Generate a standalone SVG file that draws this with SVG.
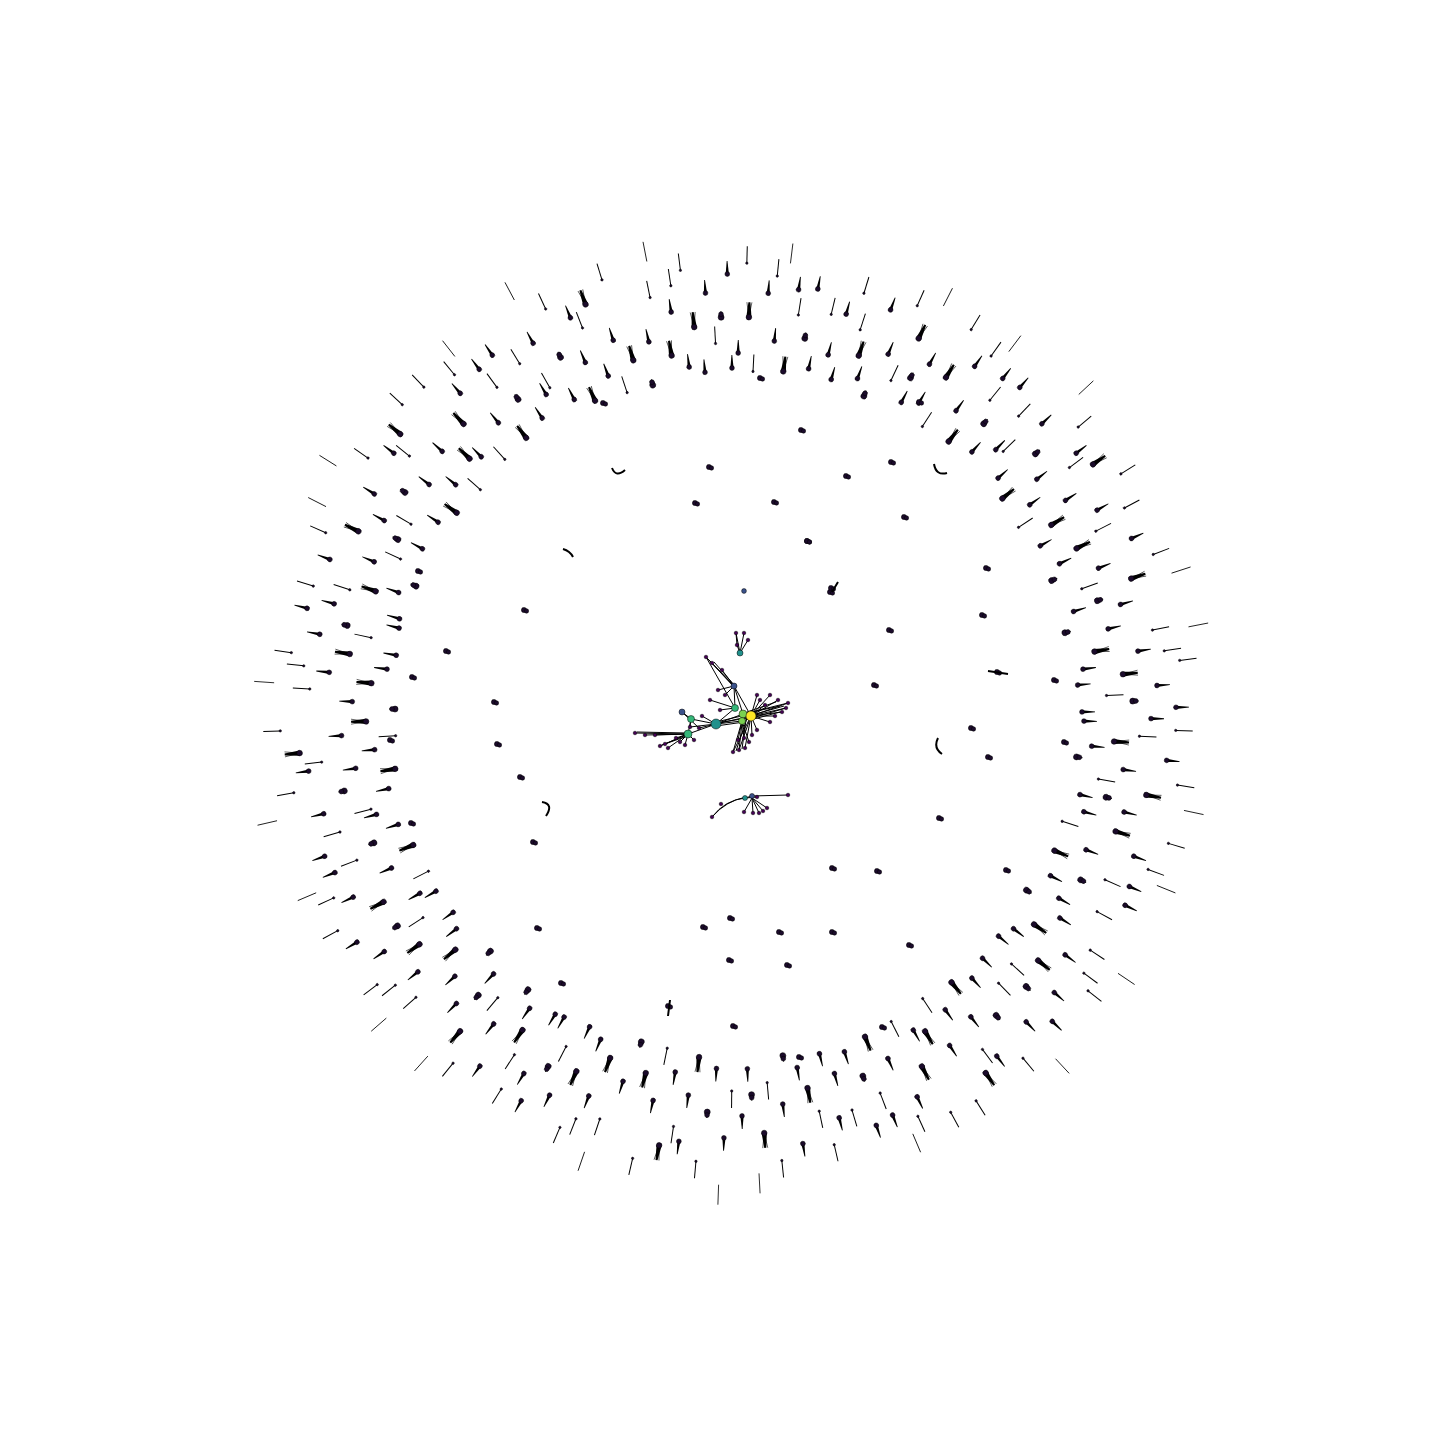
<svg xmlns="http://www.w3.org/2000/svg" width="1440" height="1440" viewBox="0 0 1440 1440">
<style>
.e{stroke:#000;stroke-width:1;fill:none}
.n{fill:#1b0b2b;stroke:#000;stroke-width:0.5}
</style>
<defs>
<g id="a"><path d="M0,-1.6L13,-0.4L13,0.4L0,1.6Z" fill="#000"/><circle r="2.4" class="n"/></g>
<g id="b"><line x1="0" y1="0" x2="17" y2="0" class="e"/><circle r="1.2" class="n"/></g>
<g id="c"><path d="M0,-2.6L15,-1L15,1L0,2.6Z" fill="#000"/><path d="M0,0L15,-2.5M0,0L15,2.5" class="e" style="stroke-width:0.6"/><circle r="2.8" class="n"/></g>
<g id="d"><line x1="0" y1="0" x2="6" y2="0" class="e"/><circle r="3" class="n"/><circle cx="3" r="2.4" class="n"/></g>
<g id="f"><line x1="0" y1="0" x2="20" y2="0" class="e" style="stroke-width:0.8"/></g>
<g id="q"><line x1="-3" y1="-2" x2="3" y2="2" class="e"/><circle cx="-1" r="2.6" class="n"/><circle cx="1.5" cy="1" r="2.2" class="n"/></g>
<g id="P1">
<use href="#a" transform="rotate(1) translate(349)"/><use href="#b" transform="rotate(3) translate(405)"/><use href="#c" transform="rotate(4) translate(380)"/><use href="#a" transform="rotate(6) translate(434)"/>
<use href="#d" transform="rotate(7) translate(344)"/><use href="#a" transform="rotate(8) translate(392)"/><use href="#b" transform="rotate(10) translate(369)"/><use href="#c" transform="rotate(11) translate(419)"/>
<use href="#f" transform="rotate(12) translate(459)"/><use href="#a" transform="rotate(13) translate(354)"/><use href="#a" transform="rotate(14) translate(401)"/><use href="#b" transform="rotate(2) translate(441)"/>
<use href="#b" transform="rotate(9) translate(448)"/><use href="#a" transform="rotate(5) translate(358)"/><use href="#d" transform="rotate(12.5) translate(380)"/><use href="#a" transform="rotate(0.5) translate(416)"/>
</g>
<g id="P2">
<use href="#a" transform="rotate(0.5) translate(362)"/><use href="#c" transform="rotate(2) translate(398)"/><use href="#b" transform="rotate(3) translate(344)"/><use href="#a" transform="rotate(4.5) translate(423)"/>
<use href="#a" transform="rotate(6) translate(376)"/><use href="#f" transform="rotate(7) translate(455)"/><use href="#c" transform="rotate(8) translate(347)"/><use href="#b" transform="rotate(9) translate(405)"/>
<use href="#d" transform="rotate(10.5) translate(383)"/><use href="#a" transform="rotate(11) translate(434)"/><use href="#a" transform="rotate(12) translate(354)"/><use href="#b" transform="rotate(13.5) translate(412)"/>
<use href="#a" transform="rotate(14.5) translate(372)"/><use href="#b" transform="rotate(5.5) translate(441)"/><use href="#b" transform="rotate(1.5) translate(452)"/><use href="#a" transform="rotate(8.5) translate(430)"/>
</g>
<g id="P3">
<use href="#d" transform="rotate(1) translate(340)"/><use href="#a" transform="rotate(2) translate(383)"/><use href="#b" transform="rotate(3.5) translate(426)"/><use href="#c" transform="rotate(5) translate(365)"/>
<use href="#a" transform="rotate(6) translate(408)"/><use href="#a" transform="rotate(7.5) translate(351)"/><use href="#b" transform="rotate(8) translate(448)"/><use href="#c" transform="rotate(9) translate(390)"/>
<use href="#a" transform="rotate(10) translate(344)"/><use href="#a" transform="rotate(11) translate(423)"/><use href="#b" transform="rotate(12) translate(372)"/><use href="#d" transform="rotate(13) translate(398)"/>
<use href="#a" transform="rotate(14) translate(441)"/><use href="#f" transform="rotate(4) translate(462)"/><use href="#b" transform="rotate(6.5) translate(434)"/><use href="#a" transform="rotate(14.5) translate(347)"/>
</g>
<g id="P4">
<use href="#b" transform="rotate(0.5) translate(376)"/><use href="#a" transform="rotate(1.5) translate(423)"/><use href="#a" transform="rotate(3) translate(354)"/><use href="#d" transform="rotate(4) translate(398)"/>
<use href="#b" transform="rotate(5) translate(448)"/><use href="#c" transform="rotate(6) translate(344)"/><use href="#a" transform="rotate(7) translate(383)"/><use href="#b" transform="rotate(8.5) translate(416)"/>
<use href="#a" transform="rotate(9.5) translate(362)"/><use href="#c" transform="rotate(10) translate(437)"/><use href="#b" transform="rotate(11.5) translate(340)"/><use href="#a" transform="rotate(12) translate(394)"/>
<use href="#b" transform="rotate(13) translate(455)"/><use href="#c" transform="rotate(14) translate(369)"/><use href="#f" transform="rotate(2) translate(470)"/><use href="#a" transform="rotate(7.5) translate(430)"/>
</g>
</defs>
<rect width="1440" height="1440" fill="#fff"/>

<g id="outer-ring">
<use id="w0" href="#P1" transform="translate(735 715) rotate(0)"/>
<use id="w1" href="#P2" transform="translate(735 715) rotate(15)"/>
<use id="w2" href="#P3" transform="translate(735 715) rotate(30)"/>
<use id="w3" href="#P4" transform="translate(735 715) rotate(45)"/>
<use id="w4" href="#P2" transform="translate(735 715) rotate(60)"/>
<use id="w5" href="#P1" transform="translate(735 715) rotate(75)"/>
<use id="w6" href="#P4" transform="translate(735 715) rotate(90)"/>
<use id="w7" href="#P3" transform="translate(735 715) rotate(105)"/>
<use id="w8" href="#P1" transform="translate(735 715) rotate(120)"/>
<use id="w9" href="#P3" transform="translate(735 715) rotate(135)"/>
<use id="w10" href="#P2" transform="translate(735 715) rotate(150)"/>
<use id="w11" href="#P4" transform="translate(735 715) rotate(165)"/>
<use id="w12" href="#P3" transform="translate(735 715) rotate(180)"/>
<use id="w13" href="#P1" transform="translate(735 715) rotate(195)"/>
<use id="w14" href="#P4" transform="translate(735 715) rotate(210)"/>
<use id="w15" href="#P2" transform="translate(735 715) rotate(225)"/>
<use id="w16" href="#P4" transform="translate(735 715) rotate(240)"/>
<use id="w17" href="#P3" transform="translate(735 715) rotate(255)"/>
<use id="w18" href="#P2" transform="translate(735 715) rotate(270)"/>
<use id="w19" href="#P1" transform="translate(735 715) rotate(285)"/>
<use id="w20" href="#P2" transform="translate(735 715) rotate(300)"/>
<use id="w21" href="#P4" transform="translate(735 715) rotate(315)"/>
<use id="w22" href="#P1" transform="translate(735 715) rotate(330)"/>
<use id="w23" href="#P3" transform="translate(735 715) rotate(345)"/>
</g>

<g id="inner-ring">
<use href="#q" x="604" y="403"/><use href="#q" x="761" y="378"/><use href="#q" x="802" y="430"/><use href="#q" x="920" y="402"/>
<use href="#q" x="710" y="467"/><use href="#q" x="847" y="476"/><use href="#q" x="892" y="462"/><use href="#q" x="696" y="503"/>
<use href="#q" x="775" y="502"/><use href="#q" x="905" y="517"/><use href="#q" x="808" y="541"/><use href="#q" x="419" y="571"/>
<use href="#q" x="987" y="568"/><use href="#q" x="525" y="610"/><use href="#q" x="831" y="592"/><use href="#q" x="890" y="630"/>
<use href="#q" x="983" y="615"/><use href="#q" x="447" y="651"/><use href="#q" x="413" y="677"/><use href="#q" x="1055" y="680"/>
<use href="#q" x="495" y="702"/><use href="#q" x="391" y="740"/><use href="#q" x="498" y="744"/><use href="#q" x="972" y="728"/>
<use href="#q" x="989" y="757"/><use href="#q" x="1065" y="742"/><use href="#q" x="521" y="777"/><use href="#q" x="412" y="823"/>
<use href="#q" x="534" y="842"/><use href="#q" x="940" y="818"/><use href="#q" x="833" y="868"/><use href="#q" x="878" y="871"/>
<use href="#q" x="1007" y="870"/><use href="#q" x="538" y="928"/><use href="#q" x="704" y="927"/><use href="#q" x="731" y="918"/>
<use href="#q" x="780" y="932"/><use href="#q" x="833" y="932"/><use href="#q" x="910" y="945"/><use href="#q" x="730" y="960"/>
<use href="#q" x="788" y="965"/><use href="#q" x="562" y="983"/><use href="#q" x="669" y="1006"/><use href="#q" x="734" y="1026"/>
<use href="#q" x="800" y="1057"/><use href="#q" x="883" y="1027"/><use href="#q" x="875" y="685"/><use href="#q" x="998" y="672"/>
<use href="#q" x="808" y="541"/><use href="#q" x="832" y="588"/>
<path class="e" style="stroke-width:2" d="M612,468 Q616,478 625,470 M934,464 Q936,476 947,473 M542,802 Q554,804 546,816 M938,738 Q933,748 942,754 M563,549 Q570,551 573,557 M670,1000 L668,1016 M988,671 L1008,674 M832,592 L838,582"/>
<circle cx="744" cy="591" r="2.4" fill="#3b528b" stroke="#000" stroke-width="0.5"/>
</g>

<g id="connectors">
<g class="e">
<path d="M751,716L788,703M751,716L786,708M751,716L782,712M751,716L778,700M751,716L775,716M751,716L770,722M751,716L765,705M751,716L760,700M751,716L770,695M751,716L757,695M743,714L788,703M742,721L786,708M743,714L780,706M745,717L784,706M747,712L776,702M750,720L780,712"/>
<path d="M751,716L733,752M751,716L739,750M751,716L745,748M742,721L749,742M742,721L744,738M742,721L738,740M751,716L757,730M751,716L752,735M742,721L733,752M743,714L739,750M747,718L736,751M746,720L742,749"/>
<path d="M734,686L706,657M734,686L712,663M734,686L722,670M734,686L718,690M734,686L725,695M735,708L710,700M735,708L720,710M751,716L734,686M743,714L734,686M735,708L734,686M735,708L706,657M733,686L708,659M736,687L714,662"/>
<path d="M716,724L751,716M716,724L743,714M716,724L742,721M716,722L750,714M716,726L744,722M716,724L735,708M716,723L748,718"/>
<path d="M716,724L691,719M716,724L688,734M716,724L702,716M716,724L699,728M716,724L690,727M688,734L665,744M688,734L660,746M688,734L668,748M688,734L680,742M688,734L676,738M688,734L685,745M688,734L694,740M688,734L635,733M688,734L645,735M688,734L655,735M691,719L682,712M691,719L690,727M682,712L699,728M691,719L688,734M687,733L637,732M690,735L662,745"/>
<path d="M740,653L736,633M740,653L744,633M740,653L748,640M740,653L737,645M737,645L736,633"/>
<path d="M712,817Q725,800 745,798L752,796L788,795M752,798L744,812M752,798L753,813M752,798L759,813M752,798L763,811M752,798L767,808M745,798L757,797M713,816Q726,801 746,797"/>
</g>
</g>

<g id="center-nodes" stroke="#000" stroke-width="0.5">
<g fill="#440154">
<circle cx="788" cy="703" r="1.8"/><circle cx="786" cy="708" r="1.8"/><circle cx="782" cy="712" r="1.8"/><circle cx="778" cy="700" r="1.8"/><circle cx="775" cy="716" r="1.8"/><circle cx="770" cy="722" r="1.8"/><circle cx="765" cy="705" r="1.8"/><circle cx="760" cy="700" r="1.8"/><circle cx="770" cy="695" r="1.8"/><circle cx="757" cy="695" r="1.8"/>
<circle cx="733" cy="752" r="1.8"/><circle cx="739" cy="750" r="1.8"/><circle cx="745" cy="748" r="1.8"/><circle cx="749" cy="742" r="1.8"/><circle cx="744" cy="738" r="1.8"/><circle cx="738" cy="740" r="1.8"/><circle cx="757" cy="730" r="1.8"/><circle cx="752" cy="735" r="1.8"/>
<circle cx="706" cy="657" r="1.8"/><circle cx="712" cy="663" r="1.8"/><circle cx="722" cy="670" r="1.8"/><circle cx="718" cy="690" r="1.8"/><circle cx="725" cy="695" r="1.8"/><circle cx="710" cy="700" r="1.8"/><circle cx="720" cy="710" r="1.8"/>
<circle cx="665" cy="744" r="1.8"/><circle cx="660" cy="746" r="1.8"/><circle cx="668" cy="748" r="1.8"/><circle cx="680" cy="742" r="1.8"/><circle cx="676" cy="738" r="1.8"/><circle cx="685" cy="745" r="1.8"/><circle cx="694" cy="740" r="1.8"/><circle cx="635" cy="733" r="1.8"/><circle cx="645" cy="735" r="1.8"/><circle cx="655" cy="735" r="1.8"/><circle cx="690" cy="727" r="1.8"/><circle cx="699" cy="728" r="1.8"/><circle cx="702" cy="716" r="1.8"/>
<circle cx="736" cy="633" r="1.8"/><circle cx="744" cy="633" r="1.8"/><circle cx="748" cy="640" r="1.8"/><circle cx="737" cy="645" r="1.8"/>
<circle cx="712" cy="817" r="1.8"/><circle cx="721" cy="804" r="1.8"/><circle cx="757" cy="797" r="1.8"/><circle cx="788" cy="795" r="1.8"/><circle cx="744" cy="812" r="1.8"/><circle cx="753" cy="813" r="1.8"/><circle cx="759" cy="813" r="1.8"/><circle cx="763" cy="811" r="1.8"/><circle cx="767" cy="808" r="1.8"/>
</g>
<circle id="n-blue1" cx="682" cy="712" r="3" fill="#3b528b"/>
<circle id="n-blue2" cx="734" cy="686" r="3" fill="#3b528b"/>
<circle id="n-blue3" cx="752" cy="796" r="2.5" fill="#3b528b"/>
<circle id="n-teal2" cx="745" cy="798" r="2.5" fill="#21918c"/>
<circle id="n-teal3" cx="740" cy="653" r="3" fill="#21918c"/>
<circle id="n-green4" cx="691" cy="719" r="3.5" fill="#35b779"/>
<circle id="n-green5" cx="688" cy="734" r="4" fill="#35b779"/>
<circle id="n-green3" cx="735" cy="708" r="3.5" fill="#35b779"/>
<circle id="n-teal" cx="716" cy="724" r="5" fill="#21918c"/>
<circle id="n-green1" cx="743" cy="714" r="4" fill="#7ad151"/>
<circle id="n-green2" cx="742" cy="721" r="3.5" fill="#7ad151"/>
<circle id="n-hub" cx="751" cy="716" r="5" fill="#fde725"/>
</g>
</svg>
